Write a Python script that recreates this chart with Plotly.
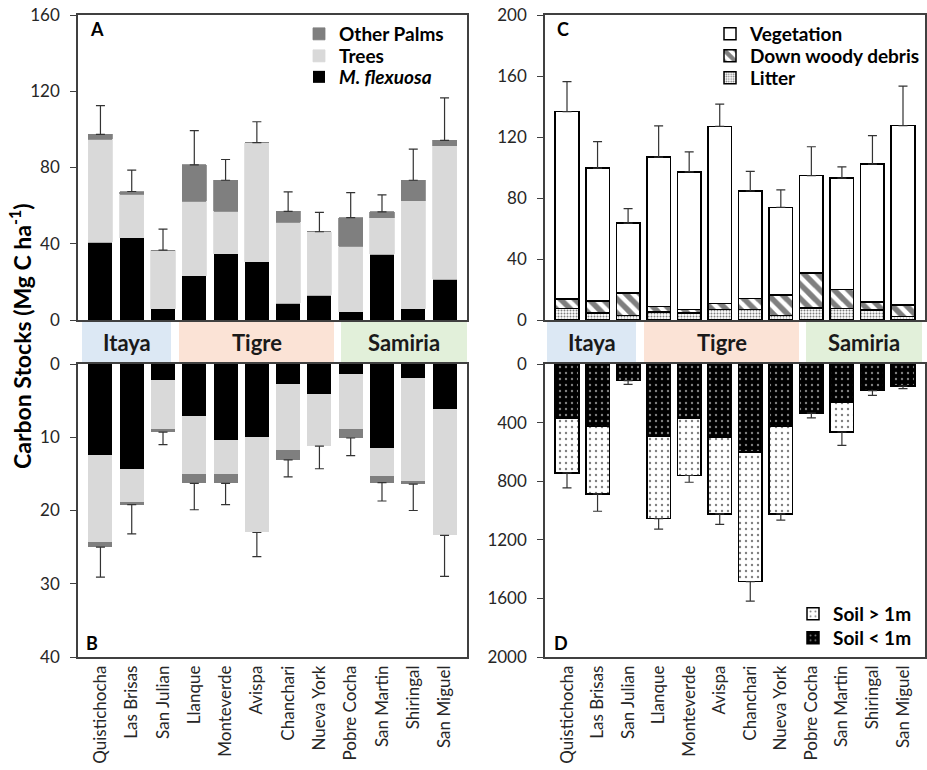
import plotly.graph_objects as go

sites = ["Quistichocha", "Las Brisas", "San Julian", "Llanque", "Monteverde", "Avispa",
         "Chanchari", "Nueva York", "Pobre Cocha", "San Martin", "Shiringal", "San Miguel"]

# Panel A: above-ground biomass carbon (segment values, Mg C/ha)
a_mflex = [40.9, 43.2, 5.8, 23.2, 34.7, 30.5, 8.8, 13.0, 4.2, 34.6, 5.8, 21.4]
a_trees = [54.0, 22.8, 30.9, 39.1, 22.3, 62.5, 42.4, 33.3, 34.4, 19.1, 56.8, 70.0]
a_palms = [2.5, 1.4, 0.0, 19.1, 16.3, 0.0, 5.8, 0.0, 15.1, 3.0, 10.7, 2.8]
a_err = [15.1, 11.2, 11.0, 17.9, 10.9, 11.0, 10.2, 10.2, 13.1, 8.9, 16.3, 22.3]

# Panel B: below-ground (roots) carbon
b_mflex = [12.4, 14.4, 2.2, 7.1, 10.4, 10.0, 2.7, 4.1, 1.3, 11.4, 1.9, 6.1]
b_trees = [11.9, 4.5, 6.7, 7.9, 4.6, 13.0, 9.1, 7.1, 7.6, 3.9, 14.1, 17.3]
b_palms = [0.7, 0.3, 0.4, 1.3, 1.3, 0.0, 1.3, 0.0, 1.2, 0.9, 0.4, 0.0]
b_err = [4.1, 4.0, 1.7, 3.6, 2.9, 3.3, 2.3, 3.1, 2.4, 2.5, 3.6, 5.6]

# Panel C: vegetation, down woody debris, litter
c_litter = [7.7, 4.6, 2.9, 5.1, 4.6, 6.8, 6.8, 2.9, 7.9, 7.5, 6.6, 2.2]
c_dwd = [6.1, 7.9, 14.9, 3.7, 2.4, 4.0, 7.3, 13.6, 22.9, 12.5, 5.3, 7.5]
c_veg = [122.9, 87.1, 45.7, 98.0, 90.1, 116.2, 70.5, 57.3, 63.9, 73.0, 90.3, 117.8]
c_err = [19.6, 17.4, 9.5, 20.5, 13.2, 14.5, 12.8, 11.5, 18.9, 7.4, 18.7, 25.9]

# Panel D: soil carbon
d_shallow = [370, 427, 114, 491, 368, 500, 600, 427, 336, 259, 182, 150]
d_deep = [373, 459, 0, 564, 393, 523, 886, 596, 0, 205, 0, 0]
d_err = [102, 119, 25, 72, 46, 72, 132, 43, 32, 91, 32, 18]

regions = ["Itaya", "Tigre", "Samiria"]
region_colors = ["#dce8f4", "#fbe3d6", "#e2f0da"]

W, H = 927, 770
FONT = "Lato"
AX = "#404040"


def px(x):
    return x / W


def py(y):
    return 1 - y / H


fig = go.Figure()


def totals(*arrs):
    return [sum(v) for v in zip(*arrs)]


def err_trace(tot, err, xa, ya):
    return go.Scatter(x=sites, y=tot, mode="markers", marker=dict(opacity=0, size=1),
                      error_y=dict(type="data", array=err, arrayminus=[0] * len(err),
                                   symmetric=False, color="#333333", thickness=1.2, width=4.5),
                      xaxis=xa, yaxis=ya, showlegend=False, hoverinfo="skip")


# Panel A
fig.add_trace(go.Bar(x=sites, y=a_mflex, name="<b><i>M. flexuosa</i></b>", marker=dict(color="#000000", line=dict(width=0)),
                     xaxis="x", yaxis="y", legend="legend3"))
fig.add_trace(go.Bar(x=sites, y=a_trees, name="<b>Trees</b>", marker=dict(color="#d9d9d9", line=dict(width=0.8, color="#d9d9d9")),
                     xaxis="x", yaxis="y", legend="legend2"))
fig.add_trace(go.Bar(x=sites, y=a_palms, name="<b>Other Palms</b>", marker=dict(color="#7f7f7f", line=dict(width=0.8, color="#7f7f7f")),
                     xaxis="x", yaxis="y", legend="legend"))
fig.add_trace(err_trace(totals(a_mflex, a_trees, a_palms), a_err, "x", "y"))

# Panel B
fig.add_trace(go.Bar(x=sites, y=b_mflex, marker=dict(color="#000000", line=dict(width=0)),
                     xaxis="x2", yaxis="y2", showlegend=False))
fig.add_trace(go.Bar(x=sites, y=b_trees, marker=dict(color="#d9d9d9", line=dict(width=0)),
                     xaxis="x2", yaxis="y2", showlegend=False))
fig.add_trace(go.Bar(x=sites, y=b_palms, marker=dict(color="#7f7f7f", line=dict(width=0)),
                     xaxis="x2", yaxis="y2", showlegend=False))
fig.add_trace(err_trace(totals(b_mflex, b_trees, b_palms), b_err, "x2", "y2"))

# Panel C
fig.add_trace(go.Bar(x=sites, y=c_litter, name="<b>Litter</b>",
                     marker=dict(color="white", line=dict(width=1.5, color="black"),
                                 pattern=dict(shape=".", fgcolor="black", bgcolor="white", size=3, solidity=0.35)),
                     xaxis="x3", yaxis="y3", legend="legend6"))
fig.add_trace(go.Bar(x=sites, y=c_dwd, name="<b>Down woody debris</b>",
                     marker=dict(color="white", line=dict(width=1.5, color="black"),
                                 pattern=dict(shape="\\", fgcolor="black", bgcolor="white", size=10, solidity=0.55)),
                     xaxis="x3", yaxis="y3", legend="legend5"))
fig.add_trace(go.Bar(x=sites, y=c_veg, name="<b>Vegetation</b>",
                     marker=dict(color="white", line=dict(width=1.5, color="black")),
                     xaxis="x3", yaxis="y3", legend="legend4"))
fig.add_trace(err_trace(totals(c_litter, c_dwd, c_veg), c_err, "x3", "y3"))

# Panel D
fig.add_trace(go.Bar(x=sites, y=d_shallow, name="<b>Soil < 1m</b>",
                     marker=dict(color="black", line=dict(width=1.5, color="black"),
                                 pattern=dict(shape=".", fgcolor="white", bgcolor="black", size=6, solidity=0.12)),
                     xaxis="x4", yaxis="y4", legend="legend8"))
fig.add_trace(go.Bar(x=sites, y=d_deep, name="<b>Soil > 1m</b>",
                     marker=dict(color="white", line=dict(width=1.5, color="black"),
                                 pattern=dict(shape=".", fgcolor="black", bgcolor="white", size=6, solidity=0.12)),
                     xaxis="x4", yaxis="y4", legend="legend7"))
fig.add_trace(err_trace(totals(d_shallow, d_deep), d_err, "x4", "y4"))

tickfont = dict(family=FONT, size=17, color="#262626")


def xax(domain, anchor, labels):
    return dict(domain=domain, anchor=anchor, type="category", showline=True, mirror=True,
                linecolor=AX, linewidth=1.5, ticks="", showticklabels=labels, tickangle=-90,
                tickfont=tickfont, showgrid=False, zeroline=False, automargin=False)


def yax(domain, anchor, rng, dtick, reverse=False):
    return dict(domain=domain, anchor=anchor, range=rng if not reverse else rng[::-1],
                dtick=dtick, tick0=0, showline=True, mirror=True, linecolor=AX, linewidth=1.5,
                ticks="outside", ticklen=6, tickcolor=AX, tickwidth=1.2, tickfont=tickfont,
                ticklabelstandoff=7,
                showgrid=False, zeroline=False, automargin=False)


xA = [px(78), px(467)]
xC = [px(545), px(925)]
yTop = [py(320), py(15)]
yBot = [py(657), py(364)]

legfont = dict(family=FONT, size=19, color="black")


def leg(x, y):
    return dict(x=px(x), y=py(y), xanchor="left", yanchor="middle",
                font=legfont, bgcolor="rgba(0,0,0,0)", itemwidth=30)


fig.update_layout(
    width=W, height=H, margin=dict(l=0, r=0, t=0, b=0, autoexpand=False),
    paper_bgcolor="white", plot_bgcolor="white",
    barmode="stack", bargap=0.23,
    xaxis=xax(xA, "y", False), yaxis=yax(yTop, "x", [0, 160], 40),
    xaxis2=xax(xA, "y2", True), yaxis2=yax(yBot, "x2", [0, 40], 10, reverse=True),
    xaxis3=xax(xC, "y3", False), yaxis3=yax(yTop, "x3", [0, 200], 40),
    xaxis4=xax(xC, "y4", True), yaxis4=yax(yBot, "x4", [0, 2000], 400, reverse=True),
    legend=leg(299, 34), legend2=leg(299, 56), legend3=leg(299, 77),
    legend4=leg(710, 34), legend5=leg(710, 56), legend6=leg(710, 78),
    legend7=leg(793, 614), legend8=leg(793, 638),
)

# Region bands
bands_left = [(82, 171), (179, 334), (341, 467)]
bands_right = [(547, 636), (644, 799), (806, 922)]
shapes = []
annos = []
for bands in (bands_left, bands_right):
    for (x0, x1), name, col in zip(bands, regions, region_colors):
        shapes.append(dict(type="rect", xref="paper", yref="paper", x0=px(x0), x1=px(x1),
                           y0=py(362), y1=py(322), fillcolor=col, line=dict(width=0), layer="below"))
        annos.append(dict(x=px((x0 + x1) / 2), y=py(342), xref="paper", yref="paper",
                          xanchor="center", yanchor="middle",
                          text="<b>%s</b>" % name, showarrow=False,
                          font=dict(family=FONT, size=22, color="#1a1a1a")))

for letter, x, y in [("A", 97, 29), ("C", 563, 29), ("B", 92, 643), ("D", 561, 643)]:
    annos.append(dict(x=px(x), y=py(y), xref="paper", yref="paper", text="<b>%s</b>" % letter,
                      xanchor="center", yanchor="middle",
                      showarrow=False, font=dict(family=FONT, size=18, color="black")))

annos.append(dict(x=px(21), y=py(336), xref="paper", yref="paper",
                  xanchor="center", yanchor="middle",
                  text="<b>Carbon Stocks (Mg C ha<sup>-1</sup>)</b>", textangle=-90,
                  showarrow=False, font=dict(family=FONT, size=23, color="black")))

fig.update_layout(shapes=shapes, annotations=annos)

fig.write_html("out.html")
